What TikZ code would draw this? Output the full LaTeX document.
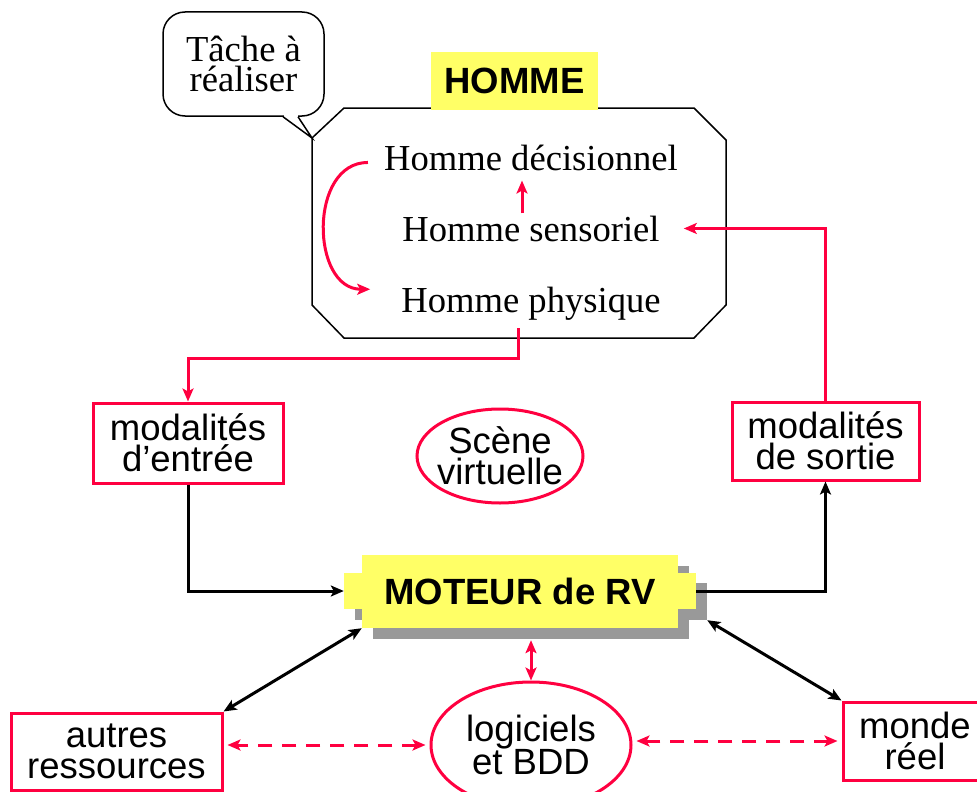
\documentclass[tikz,border=0pt]{standalone}
\usepackage{fontspec}
\setmainfont{Liberation Serif}
\setsansfont{Liberation Sans}
\usetikzlibrary{arrows.meta,shapes.geometric}
\definecolor{rvred}{RGB}{255,0,64}
\definecolor{rvyellow}{RGB}{255,255,102}
\definecolor{rvshadow}{RGB}{153,153,153}

\begin{document}
\begin{tikzpicture}[x=1pt, y=-1pt, >={Stealth[length=13pt,width=11pt,inset=3pt]},
	serif/.style={font=\fontsize{36.6}{30}\selectfont, inner sep=2pt},
	sans/.style={font=\sffamily\fontsize{36.5}{31}\selectfont, inner sep=0pt, align=center},
	bold/.style={font=\sffamily\bfseries\fontsize{36.5}{31}\selectfont, inner sep=0pt},
	redbox/.style={sans, draw=rvred, line width=3pt},
	redline/.style={draw=rvred, line width=3pt},
	blackline/.style={draw=black, line width=3pt}]
	\useasboundingbox (0,0) rectangle (977,792);
	
	%bubble
	\node[serif, align=center, draw, line width=1.5pt, rounded corners=22pt, minimum width=161pt, minimum height=104pt] (tache) at (243.5,64) {Tâche à\\réaliser};
	\coordinate (tip) at (312,138);
	\fill[white] ([xshift=40pt,yshift=2pt]tache.south) rectangle ([xshift=54pt,yshift=-2pt]tache.south);
	\draw[line width=1.5pt] ([xshift=39.5pt]tache.south) -- (tip) -- ([xshift=54.5pt]tache.south);
	
	%homme
	\draw[line width=1.5pt] (tip) -- (344,108) -- (694,108) -- (726,140) -- (726,305) -- (694,338) -- (344,338) -- (312,305) -- cycle;
	\node[bold, fill=rvyellow, minimum width=167pt, minimum height=58pt] (homme) at (514.5,81) {HOMME};
	\node[serif, anchor=base] (deci) at (531,170) {Homme décisionnel};
	\node[serif, anchor=base] (sens) at (531,241) {Homme sensoriel};
	\node[serif, anchor=base] (phys) at (531,312) {Homme physique};
	
	%modalites and scene
	\node[redbox, minimum width=190pt, minimum height=80pt] (entree) at (188,443) {modalités\\d’entrée};
	\node[redbox, minimum width=187pt, minimum height=78pt] (sortie) at (825.5,441) {modalités\\de sortie};
	\node[sans, ellipse, draw=rvred, line width=3pt, inner xsep=-10pt, minimum width=166pt, minimum height=94pt] (scene) at (500,456) {Scène\\virtuelle};
	
	%moteur
	\fill[rvshadow] (373,566) rectangle (689,639);
	\fill[rvshadow] (355,583) rectangle (707,620);
	\node[fill=rvyellow, minimum width=352pt, minimum height=36pt] (moteurx) at (520,591) {};
	\node[bold, fill=rvyellow, minimum width=316pt, minimum height=73pt] (moteur) at (520,591.5) {MOTEUR de RV};
	
	%bottom row
	\node[redbox, minimum width=211pt, minimum height=77pt] (autres) at (116.5,751.5) {autres\\ressources};
	\node[sans, ellipse, draw=rvred, line width=3pt, minimum width=200pt, minimum height=126pt] (logi) at (531,745) {logiciels\\et BDD};
	\node[redbox, minimum width=144pt, minimum height=78pt] (monde) at (915,741) {monde\\réel};
	
	%arrows
	\draw[redline, ->] ([xshift=-14pt,yshift=-5pt]deci.west) to[out=180, in=180, looseness=1.2] ([xshift=-29pt,yshift=14pt]phys.west);
	\draw[redline, ->, shorten >=8pt] ([xshift=-9pt]sens.north) -- ([xshift=-9pt]deci.south);
	\draw[redline, ->, shorten >=22pt] (sortie.north) |- (sens.east);
	\draw[redline, ->] ([xshift=-13pt,yshift=-6pt]phys.south) -- ++(0,30) -| (entree.north);
	\draw[blackline, ->] (entree.south) |- (moteurx.west);
	\draw[blackline, ->] (moteurx.east) -| (sortie.south);
	\draw[blackline, <->] (moteur.south west) -- (autres.north east);
	\draw[blackline, <->] ([xshift=11pt,yshift=-11pt]moteurx.south east) -- (monde.north west);
	\draw[redline, <->, shorten <=12pt] (moteur.south -| logi.north) -- (logi.north);
	\draw[redline, <->, dash pattern=on 14pt off 10pt, shorten <=4pt, shorten >=4pt] (logi.west) -- (logi.west -| autres.east);
	\draw[redline, <->, dash pattern=on 14pt off 10pt, shorten <=4pt, shorten >=4pt] (monde.west) -- (monde.west -| logi.east);
\end{tikzpicture}
\end{document}
